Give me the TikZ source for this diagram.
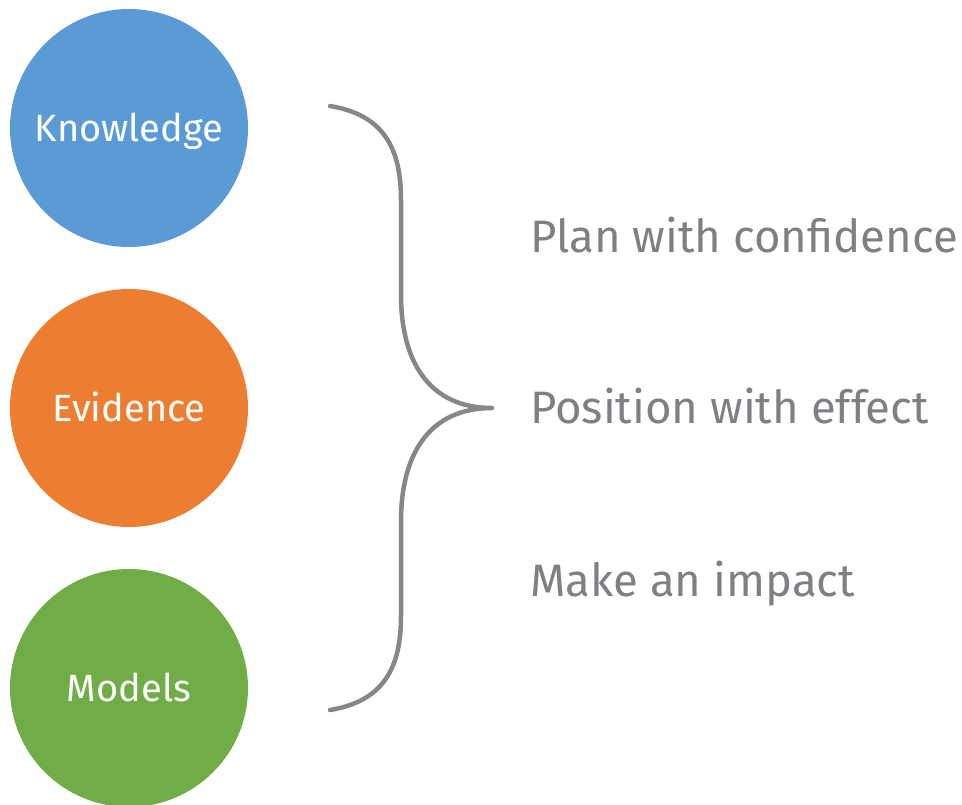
\documentclass[tikz,border=0pt]{standalone}
\usepackage{fontspec}
\setmainfont{Fira Sans}
\usepackage{xcolor}
\usetikzlibrary{positioning,calc}

\definecolor{kblue}{HTML}{5A9BD5}
\definecolor{eorange}{HTML}{ED7D31}
\definecolor{mgreen}{HTML}{70AD47}
\definecolor{txtgray}{HTML}{7F7F84}
\definecolor{bracegray}{HTML}{86868B}

\tikzset{
    circ/.style={circle, minimum size=238pt, inner sep=0pt, text=white,
        font=\fontsize{38}{38}\selectfont, text height=26pt, text depth=0pt},
    goal/.style={anchor=base west, text=txtgray, inner sep=0pt,
        font=\fontsize{45.5}{45.5}\selectfont},
    brace/.style={draw=bracegray, line width=4.5pt, line cap=round, line join=round}
}

\begin{document}
\begin{tikzpicture}[x=1pt,y=-1pt]
    \useasboundingbox (0,0) rectangle (962,804);

    \node[circ, fill=kblue] (knowledge) at (129,128) {Knowledge};
    \node[circ, fill=eorange] (evidence) at (129,408) {Evidence};
    \node[circ, fill=mgreen] (models) at (129,688) {Models};

    \coordinate (btop) at (330,106);
    \coordinate (btip) at (492,408);
    \coordinate (bbot) at (330,710);

    \draw[brace] (btop) .. controls (385,115) and (401,150) .. (401,200)
        -- (401,295) .. controls (401,360) and (428,408) .. (btip)
        .. controls (428,408) and (401,456) .. (401,521)
        -- (401,616) .. controls (401,666) and (385,701) .. (bbot);

    \node[goal] (plan) at (530,252) {Plan with confidence};
    \node[goal] (position) at (530,423) {Position with effect};
    \node[goal] (impact) at (530,596) {Make an impact};
\end{tikzpicture}
\end{document}
